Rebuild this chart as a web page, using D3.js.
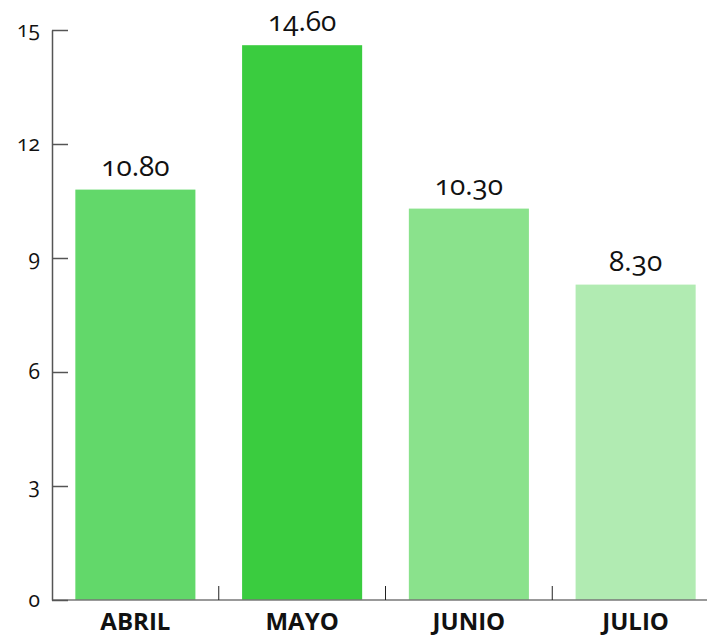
<!DOCTYPE html>
<html><head><meta charset="utf-8">
<script src="https://cdn.jsdelivr.net/npm/d3@7"></script>
<style>
html,body{margin:0;padding:0;background:#fff;}
svg{display:block;font-family:"Open Sans",sans-serif;}
</style></head>
<body>
<script>
const categories = ["ABRIL","MAYO","JUNIO","JULIO"];
const values = [10.8, 14.6, 10.3, 8.3];
const colors = ["#62d86a","#3acc3f","#8ae28c","#b1ebb2"];
const yTicks = [0,3,6,9,12,15];

const W = 707, H = 636;
const svg = d3.select("body").append("svg").attr("width", W).attr("height", H);

const x = d3.scaleBand().domain(categories).range([52, 719]).paddingInner(0.28).paddingOuter(0.14);
const y = d3.scaleLinear().domain([0, 15]).range([600, 30]);

// bars
svg.selectAll("rect.bar").data(values).enter().append("rect")
  .attr("class","bar")
  .attr("x",(d,i)=>x(categories[i]))
  .attr("width",x.bandwidth())
  .attr("y",d=>y(d))
  .attr("height",d=>y(0)-y(d))
  .attr("fill",(d,i)=>colors[i]);

// value labels
svg.selectAll("text.val").data(values).enter().append("text")
  .attr("class","val")
  .attr("x",(d,i)=>x(categories[i])+x.bandwidth()/2)
  .attr("y",d=>y(d)-14)
  .attr("text-anchor","middle")
  .style("font-size","28px")
  .style("font-variant-numeric","oldstyle-nums")
  .attr("fill","#111")
  .text(d=>d.toFixed(2));

// x axis
const xAxisG = svg.append("g");
xAxisG.append("line").attr("x1",52).attr("x2",W).attr("y1",y(0)).attr("y2",y(0))
  .attr("stroke","#777").attr("stroke-width",1.5);
const step = x.step();
const boundaries = categories.slice(0,-1).map(c=>x(c)+x.bandwidth()+x.paddingInner()*step/2);
xAxisG.selectAll("line.tk").data(boundaries).enter().append("line")
  .attr("class","tk")
  .attr("x1",d=>d).attr("x2",d=>d).attr("y1",y(0)).attr("y2",y(0)-14)
  .attr("stroke","#222").attr("stroke-width",1);
xAxisG.selectAll("text.cat").data(categories).enter().append("text")
  .attr("class","cat")
  .attr("x",d=>x(d)+x.bandwidth()/2)
  .attr("y",630)
  .attr("text-anchor","middle")
  .style("font-size","24px").style("font-weight","bold")
  .attr("fill","#111")
  .text(d=>d);

// y axis
const yAxis = d3.axisLeft(y).tickValues(yTicks).tickSize(-16).tickPadding(12).tickSizeOuter(0);
const yG = svg.append("g").attr("transform","translate(52,0)").call(yAxis);
yG.select(".domain").attr("stroke","#555").attr("stroke-width",1.5);
yG.selectAll(".tick line").attr("stroke","#555").attr("stroke-width",1.5);
yG.selectAll(".tick text").style("font-size","21px").style("font-family","'Open Sans',sans-serif")
  .style("font-variant-numeric","oldstyle-nums").attr("fill","#111");
</script>
</body></html>
